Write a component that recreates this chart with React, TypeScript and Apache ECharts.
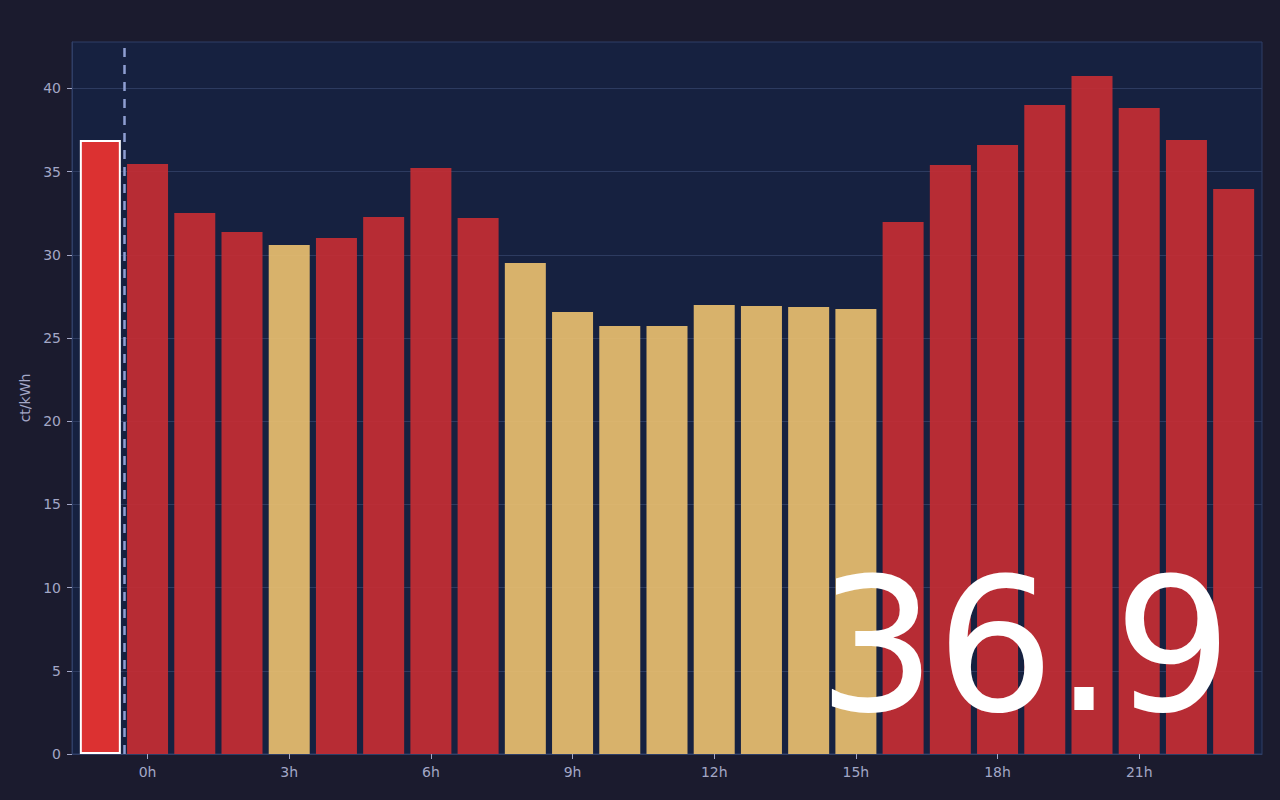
import React, { useEffect, useRef } from "react";
import * as echarts from "echarts";

// hour offsets of each bar (-1 = current hour, previous day's 23h)
const hours = [-1, 0, 1, 2, 3, 4, 5, 6, 7, 8, 9, 10, 11, 12, 13, 14, 15, 16, 17, 18, 19, 20, 21, 22, 23];
// prices in ct/kWh
const prices = [
  36.9, 35.46, 32.51, 31.37, 30.59, 31.01, 32.27, 35.22, 32.21, 29.51, 26.56, 25.72, 25.72,
  26.98, 26.92, 26.86, 26.74, 31.97, 35.4, 36.6, 39.0, 40.75, 38.82, 36.9, 33.95,
];
const tickHours = [0, 3, 6, 9, 12, 15, 18, 21];
const tickLabels = ["0h", "3h", "6h", "9h", "12h", "15h", "18h", "21h"];
const yTicks = [0, 5, 10, 15, 20, 25, 30, 35, 40];
const currentIndex = 0;
const nowMarker = -0.5;
const cheapBelow = 30.8;

const RED = "#c92e33";
const YELLOW = "#edc270";
const CURRENT = "#dc3131";

export default function App() {
  const ref = useRef<HTMLDivElement>(null);

  useEffect(() => {
    document.body.style.margin = "0";
    document.body.style.background = "#1b1b2e";
    if (!ref.current) return;
    const chart = echarts.init(ref.current, null, { renderer: "svg" });
    const data = hours.map((h, i) => {
      const isCurrent = i === currentIndex;
      const color = isCurrent ? CURRENT : prices[i] < cheapBelow ? YELLOW : RED;
      return {
        value: [h, prices[i]],
        itemStyle: isCurrent
          ? { color, opacity: 1, borderColor: "#ffffff", borderWidth: 2 }
          : { color, opacity: 0.9 },
      };
    });
    const labelColor = "#a3a7c6";
    chart.setOption({
      animation: false,
      backgroundColor: "#1b1b2e",
      textStyle: { fontFamily: "DejaVu Sans" },
      grid: {
        left: 72,
        top: 42,
        right: 18,
        bottom: 46,
        show: true,
        backgroundColor: "#162140",
        borderColor: "#2f3e66",
        borderWidth: 1,
      },
      xAxis: {
        type: "value",
        min: -1.6,
        max: 23.6,
        splitLine: { show: false },
        axisLine: { show: true, onZero: false, lineStyle: { color: "#2f3e66" } },
        axisTick: { show: true, length: 5, customValues: tickHours, lineStyle: { color: labelColor } },
        axisLabel: {
          customValues: tickHours,
          formatter: (v: number) => tickLabels[tickHours.indexOf(v)] ?? "",
          color: labelColor,
          fontSize: 14,
          margin: 11,
          fontFamily: "DejaVu Sans",
        },
      },
      yAxis: {
        type: "value",
        min: 0,
        max: 42.79,
        interval: 5,
        name: "ct/kWh",
        nameLocation: "middle",
        nameGap: 40,
        nameTextStyle: { color: labelColor, fontSize: 14, fontFamily: "DejaVu Sans" },
        splitLine: { show: true, lineStyle: { color: "#2d3b60", width: 1 } },
        axisLine: { show: true, onZero: false, lineStyle: { color: "#2f3e66" } },
        axisTick: { show: true, length: 5, customValues: yTicks, lineStyle: { color: labelColor } },
        axisLabel: {
          customValues: yTicks,
          color: labelColor,
          fontSize: 14,
          margin: 11,
          fontFamily: "DejaVu Sans",
        },
      },
      series: [
        {
          type: "bar",
          barWidth: 41,
          data,
          emphasis: { disabled: true },
          markLine: {
            silent: true,
            symbol: ["none", "none"],
            label: { show: false },
            lineStyle: { color: "#8e9ed2", width: 2.5, type: [9, 8], opacity: 1 },
            data: [{ xAxis: nowMarker }],
          },
        },
      ],
      graphic: [
        {
          type: "text",
          x: 1232,
          y: 645,
          z: 100,
          style: {
            text: prices[currentIndex].toFixed(1),
            fill: "#ffffff",
            font: "186px 'DejaVu Sans'",
            textAlign: "right",
            textVerticalAlign: "middle",
          },
        },
      ],
    });
    return () => chart.dispose();
  }, []);

  return <div ref={ref} style={{ width: 1280, height: 800, overflow: "hidden" }} />;
}
